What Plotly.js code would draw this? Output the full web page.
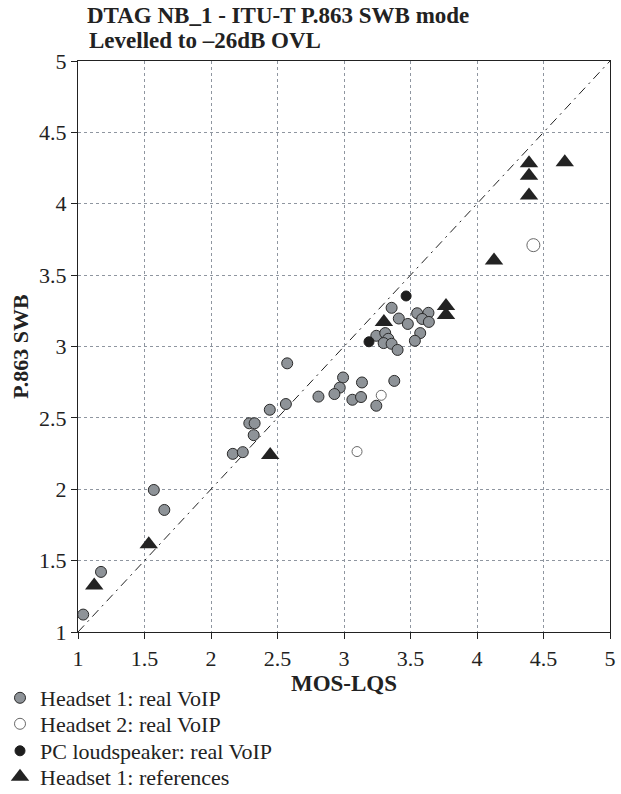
<!DOCTYPE html>
<html><head><meta charset="utf-8">
<script src="https://cdn.plot.ly/plotly-3.0.1.min.js"></script>
<style>body{margin:0;background:#fff}#c{width:621px;height:794px}</style>
</head><body><div id="c"></div>
<script>
const h1X=[3.358,3.412,3.48,3.55,3.635,3.588,3.638,3.573,3.533,3.243,3.31,3.333,3.298,3.358,3.403,2.573,2.993,3.135,3.378,2.968,2.928,2.808,3.063,3.128,3.243,2.563,2.442,2.288,2.328,2.321,2.164,2.239,1.57,1.649,1.173,1.039];
const h1Y=[3.271,3.196,3.158,3.233,3.236,3.193,3.172,3.094,3.04,3.075,3.094,3.054,3.024,3.019,2.976,2.882,2.783,2.748,2.759,2.712,2.667,2.649,2.627,2.646,2.585,2.597,2.557,2.462,2.462,2.379,2.248,2.26,1.995,1.855,1.421,1.122];
const h2X=[3.28,3.098,4.424];
const h2Y=[2.658,2.264,3.71];
const pcX=[3.467,3.188];
const pcY=[3.354,3.033];
const refX=[1.122,1.532,2.445,3.3,3.767,3.767,4.128,4.391,4.391,4.391,4.66];
const refY=[1.325,1.614,2.24,3.172,3.284,3.221,3.603,4.283,4.197,4.058,4.29];
const diagX=[1,5], diagY=[1,5];
const tickVals=[1,1.5,2,2.5,3,3.5,4,4.5,5];
const tickText=['1','1.5','2','2.5','3','3.5','4','4.5','5'];
const names=['Headset 1: real VoIP','Headset 2: real VoIP','PC loudspeaker: real VoIP','Headset 1: references'];
const titleLines=['DTAG NB_1 - ITU-T P.863 SWB mode','Levelled to –26dB OVL'];
const xTitle='MOS-LQS', yTitle='P.863 SWB';

const serif='"Liberation Serif","Times New Roman",serif';
const ink='#222';
const traces=[
 {x:diagX,y:diagY,mode:'lines',showlegend:false,hoverinfo:'skip',line:{color:ink,width:1,dash:'9px,5px,2px,5px'}},
 {x:h1X,y:h1Y,mode:'markers',name:names[0],legend:'legend',marker:{symbol:'circle',size:11,color:'#8e9398',line:{color:'#2a2a2a',width:1}}},
 {x:h2X,y:h2Y,mode:'markers',name:names[1],legend:'legend2',marker:{symbol:'circle',size:[10,10,13],color:'#ffffff',line:{color:'#2a2a2a',width:1}}},
 {x:pcX,y:pcY,mode:'markers',name:names[2],legend:'legend3',marker:{symbol:'circle',size:10,color:'#1e1e1e',line:{color:'#1e1e1e',width:1}}},
 {x:refX,y:refY,mode:'markers',name:names[3],legend:'legend4',marker:{symbol:'triangle-up',size:16,color:'#232323',line:{color:'#232323',width:0}}}
];
const ax={range:[1,5],tickvals:tickVals,ticktext:tickText,showgrid:true,gridcolor:'#8f96a0',griddash:'3px,3px',gridwidth:1,
  zeroline:false,showline:true,linecolor:ink,linewidth:1.2,mirror:true,ticks:'outside',ticklen:6,tickcolor:ink,automargin:true,
  tickfont:{family:serif,size:22,color:ink}};
const W=621,H=794,L=78,R=11,T=61,B=162,PW=W-L-R,PH=H-T-B;
function leg(rowY){return {xref:'paper',yref:'paper',x:(0-L)/PW,xanchor:'left',y:(H-B-rowY)/PH,yanchor:'middle',
  bgcolor:'rgba(0,0,0,0)',font:{family:serif,size:22,color:ink},itemwidth:30};}
const layout={
 width:W,height:H,paper_bgcolor:'#fff',plot_bgcolor:'#fff',
 margin:{l:L,r:R,t:T,b:B,autoexpand:false},
 title:{text:'<b>'+titleLines[0]+'</b>',font:{family:serif,size:23,color:ink},
   xref:'container',x:87/W,xanchor:'left',yref:'container',y:(H-15)/H,yanchor:'middle',automargin:false},
 annotations:[{text:'<b>'+titleLines[1]+'</b>',xref:'paper',yref:'paper',x:(87-L)/PW,y:1+(T-41)/PH,xanchor:'left',yanchor:'middle',
   showarrow:false,font:{family:serif,size:23,color:ink}}],
 xaxis:Object.assign({},ax,{title:{text:'<b>'+xTitle+'</b>',font:{family:serif,size:23,color:ink},standoff:4}}),
 yaxis:Object.assign({},ax,{title:{text:'<b>'+yTitle+'</b>',font:{family:serif,size:22,color:ink},standoff:4}}),
 legend:leg(698),legend2:leg(724),legend3:leg(751),legend4:leg(777),
 showlegend:true
};
Plotly.newPlot('c',traces,layout,{staticPlot:true});
</script></body></html>
